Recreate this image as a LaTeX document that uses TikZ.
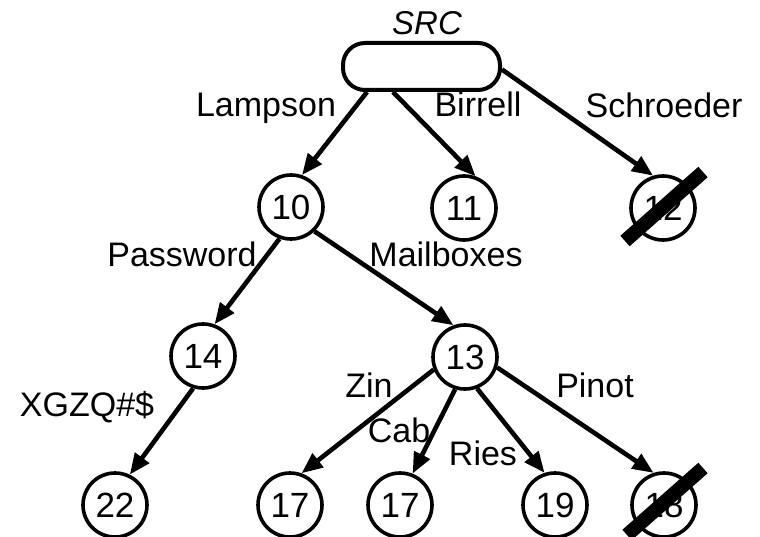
\documentclass[tikz,border=0pt]{standalone}
\usepackage{fontspec}
\setmainfont{Liberation Sans}
\usetikzlibrary{arrows.meta,calc}

\tikzset{
  vertex/.style={circle, draw, line width=3.6pt, minimum size=64pt, inner sep=0pt,
                 font=\fontsize{35}{40}\selectfont},
  root/.style={rectangle, draw, line width=4pt, rounded corners=22pt,
               minimum width=157pt, minimum height=47pt, inner sep=0pt},
  edge/.style={line width=4.6pt, -{Triangle[length=21pt,width=17pt]}},
  lbl/.style={anchor=base, inner sep=0pt, font=\fontsize{34}{40}\selectfont},
  strike/.style={line width=14pt, line cap=butt},
}

\begin{document}
\begin{tikzpicture}[x=1pt, y=-1pt]
  \useasboundingbox (0,0) rectangle (760,537);

  % root of the directory tree
  \node[root] (src) at (421.5,66.5) {};
  \node[lbl, font=\fontsize{33}{38}\selectfont\itshape] (srcname) at (427,35) {SRC};

  % first level
  \node[vertex] (n10) at (291,207) {10};
  \node[vertex] (n11) at (464,208) {11};
  \node[vertex] (n12) at (663,208) {12};

  % second level
  \node[vertex] (n14) at (203,356) {14};
  \node[vertex] (n13) at (465,357) {13};

  % leaves
  \node[vertex] (n22)  at (115,505) {22};
  \node[vertex] (n17a) at (290,505) {17};
  \node[vertex] (n17b) at (400,505) {17};
  \node[vertex] (n19)  at (555,505) {19};
  \node[vertex] (n18)  at (664,505) {18};

  % connectors
  \draw[edge] ($(src.south)+(-54.5,0)$) -- (n10.71);
  \draw[edge] ($(src.south)+(-28.5,0)$) -- (n11.70);
  \draw[edge] ($(src.east)+(0,3)$) -- (n12.107);
  \draw[edge] (n10.250) -- (n14.70);
  \draw[edge] (n10.314) -- (n13.110);
  \draw[edge] (n14.253) -- (n22.64);
  \draw[edge] (n13.202) -- (n17a.70);
  \draw[edge] (n13.253) -- (n17b.68);
  \draw[edge] (n13.291) -- (n19.108);
  \draw[edge] (n13.342) -- (n18.108);

  % deleted entries
  \draw[strike] ($(n12)+(-38,33)$) -- ($(n12)+(40,-36)$);
  \draw[strike] ($(n18)+(-37,30)$) -- ($(n18)+(39,-37)$);

  % edge names
  \node[lbl] (lLampson)   at (266,117) {Lampson};
  \node[lbl] (lBirrell)   at (478,117) {Birrell};
  \node[lbl] (lSchroeder) at (664,118) {Schroeder};
  \node[lbl] (lPassword)  at (182,267) {Password};
  \node[lbl] (lMailboxes) at (446,267) {Mailboxes};
  \node[lbl] (lXGZQ)      at (87,416)  {XGZQ\#\$};
  \node[lbl] (lZin)       at (369,397) {Zin};
  \node[lbl] (lCab)       at (399,442) {Cab};
  \node[lbl] (lRies)      at (483,465) {Ries};
  \node[lbl] (lPinot)     at (595,397) {Pinot};
\end{tikzpicture}
\end{document}
